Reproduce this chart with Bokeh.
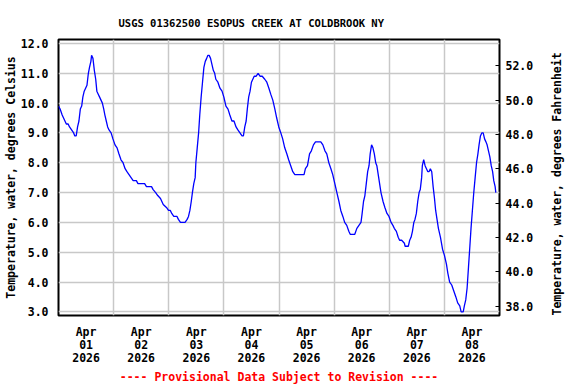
import math
import pandas as pd
from bokeh.plotting import figure
from bokeh.models import (Range1d, LinearAxis, FixedTicker, NumeralTickFormatter,
                          DatetimeTickFormatter, Title)
from bokeh.embed import file_html
from bokeh.resources import INLINE

# ---- data ----
title_text = "USGS 01362500 ESOPUS CREEK AT COLDBROOK NY"
footer_text = "---- Provisional Data Subject to Revision ----"
left_label = "Temperature, water, degrees Celsius"
right_label = "Temperature, water, degrees Fahrenheit"
start_time = "2026-04-01 00:00"
end_time = "2026-04-09 00:00"

hours = [0.0, 0.7, 1.6, 2.2, 2.8, 3.4, 4.2, 4.8, 5.7, 6.6, 7.1, 7.7, 8.3, 8.9, 9.5, 10.1,
         10.6, 11.2, 11.8, 12.4, 13.0, 13.5, 14.1, 14.4, 15.0, 15.6, 16.2, 16.7, 17.3,
         17.9, 18.5, 19.1, 19.7, 20.2, 20.8, 21.4, 22.0, 22.9, 23.7, 24.6, 25.5, 26.3,
         27.2, 28.1, 29.0, 29.8, 30.7, 31.6, 32.5, 33.9, 34.6, 37.5, 38.3, 40.5, 41.2,
         42.3, 43.2, 44.4, 45.6, 47.0, 47.9, 48.7, 49.3, 50.2, 51.6, 52.2, 53.1, 55.1,
         56.0, 56.6, 57.2, 57.8, 58.3, 58.9, 59.5, 59.8, 60.4, 61.0, 61.5, 62.1, 62.7,
         63.3, 63.9, 64.5, 65.0, 65.6, 66.2, 66.8, 67.4, 68.0, 68.5, 69.4, 70.3, 71.2,
         72.0, 72.9, 73.8, 74.6, 75.5, 76.4, 77.3, 78.1, 79.0, 79.9, 80.5, 81.1, 81.7,
         82.2, 82.8, 83.4, 84.0, 84.6, 85.2, 86.0, 86.9, 87.8, 88.7, 89.8, 90.7, 91.6,
         92.4, 93.3, 94.2, 95.0, 95.9, 96.8, 97.6, 98.5, 99.4, 100.2, 101.1, 102.0,
         102.9, 106.9, 107.5, 108.4, 109.3, 110.1, 111.0, 111.9, 112.5, 114.2, 115.1,
         116.0, 116.8, 117.7, 118.6, 119.4, 120.3, 121.2, 122.1, 122.9, 123.8, 124.6,
         125.5, 126.4, 127.0, 129.0, 129.9, 130.8, 131.7, 132.2, 132.8, 133.4, 134.0,
         134.6, 135.2, 135.7, 136.3, 136.9, 137.5, 138.1, 138.6, 139.2, 139.8, 140.4,
         141.3, 142.1, 143.0, 143.9, 144.8, 145.6, 146.2, 147.1, 147.9, 148.5, 149.4,
         150.6, 150.9, 152.3, 152.9, 153.5, 154.1, 154.7, 155.2, 155.8, 156.4, 157.0,
         157.5, 158.1, 158.4, 159.0, 159.6, 160.2, 160.8, 161.3, 161.9, 162.5, 163.1,
         163.7, 164.2, 164.8, 165.4, 166.3, 167.2, 168.0, 168.9, 169.5, 170.3, 171.2,
         172.1, 173.0, 173.8, 174.7, 175.3, 176.2, 176.7, 177.3, 177.9, 178.5, 179.1,
         179.6, 180.2, 180.8, 181.4, 182.0, 182.6, 183.1, 183.7, 184.3, 184.9, 185.5,
         186.1, 186.6, 187.2, 187.8, 188.4, 189.0, 189.5, 190.1, 190.4]

temp_c = [9.9, 9.8, 9.6, 9.5, 9.4, 9.3, 9.3, 9.2, 9.1, 9.0, 8.9, 8.9, 9.2, 9.4, 9.8, 9.9,
          10.2, 10.4, 10.5, 10.6, 11.0, 11.2, 11.4, 11.6, 11.5, 11.1, 10.8, 10.4, 10.3,
          10.2, 10.1, 10.0, 9.8, 9.6, 9.4, 9.2, 9.1, 9.0, 8.8, 8.6, 8.5, 8.3,
          8.1, 8.0, 7.8, 7.7, 7.6, 7.5, 7.4, 7.4, 7.3, 7.3, 7.2, 7.2, 7.1,
          7.0, 6.9, 6.8, 6.6, 6.5, 6.4, 6.4, 6.3, 6.2, 6.2, 6.1, 6.0, 6.0,
          6.1, 6.2, 6.4, 6.7, 7.0, 7.3, 7.5, 8.0, 8.5, 9.0, 9.6, 10.2, 10.7,
          11.2, 11.4, 11.5, 11.6, 11.6, 11.5, 11.3, 11.1, 11.0, 10.8, 10.7, 10.5, 10.4,
          10.2, 9.9, 9.8, 9.6, 9.4, 9.4, 9.2, 9.1, 9.0, 8.9, 8.9, 9.2, 9.4,
          9.8, 10.2, 10.4, 10.7, 10.8, 10.9, 10.9, 11.0, 10.9, 10.9, 10.8, 10.7, 10.5,
          10.3, 10.1, 9.8, 9.5, 9.2, 9.0, 8.8, 8.5, 8.3, 8.1, 7.9, 7.7,
          7.6, 7.6, 7.8, 7.9, 8.3, 8.4, 8.6, 8.7, 8.7, 8.7, 8.6,
          8.4, 8.3, 8.0, 7.8, 7.6, 7.3, 7.0, 6.7, 6.4, 6.2, 6.0,
          5.9, 5.7, 5.6, 5.6, 5.8, 5.9, 6.0, 6.3, 6.7, 6.9, 7.3,
          7.7, 7.9, 8.3, 8.6, 8.5, 8.3, 8.0, 7.9, 7.6, 7.3, 7.0,
          6.7, 6.5, 6.3, 6.2, 6.0, 5.9, 5.8, 5.7, 5.5, 5.4, 5.4,
          5.3, 5.2, 5.2, 5.4, 5.5, 5.7, 6.0, 6.1, 6.3, 6.7, 7.0,
          7.1, 7.5, 7.9, 8.1, 7.9, 7.8, 7.7, 7.7, 7.8, 7.7, 7.2,
          6.8, 6.4, 6.1, 5.8, 5.5, 5.1, 4.9, 4.6, 4.3, 4.0, 3.9,
          3.7, 3.5, 3.3, 3.2, 3.0, 3.0, 3.2, 3.4, 3.8, 4.5, 5.2,
          5.8, 6.4, 7.0, 7.5, 8.0, 8.3, 8.6, 8.9, 9.0, 9.0, 8.8,
          8.7, 8.6, 8.4, 8.2, 7.9, 7.7, 7.4, 7.2, 7.0]

celsius_ticks = [3, 4, 5, 6, 7, 8, 9, 10, 11, 12]
fahrenheit_ticks = [38, 40, 42, 44, 46, 48, 50, 52]
label_days = ["2026-04-01 12:00", "2026-04-02 12:00", "2026-04-03 12:00", "2026-04-04 12:00",
              "2026-04-05 12:00", "2026-04-06 12:00", "2026-04-07 12:00", "2026-04-08 12:00"]
grid_days = ["2026-04-02", "2026-04-03", "2026-04-04", "2026-04-05",
             "2026-04-06", "2026-04-07", "2026-04-08"]

# ---- derived ----
t0 = pd.Timestamp(start_time)
times = [t0 + pd.Timedelta(hours=h) for h in hours]


def ms(s):
    return int(pd.Timestamp(s).value // 10**6)


FONT = "DejaVu Sans Mono"
FS = "11.5px"

p = figure(width=576, height=384, x_axis_type="datetime",
           x_range=Range1d(pd.Timestamp(start_time), pd.Timestamp(end_time)),
           y_range=Range1d(2.877, 12.133),
           output_backend="svg", toolbar_location=None,
           min_border_left=58, min_border_right=77, min_border_top=39, min_border_bottom=68,
           background_fill_color="white", border_fill_color="white")

p.extra_y_ranges = {"f": Range1d(37.46, 53.53)}

p.outline_line_color = "black"
p.outline_line_width = 2
p.outline_line_alpha = 1.0

# Title
p.title.text = title_text
p.title.align = "left"
p.title.offset = 60
p.title.text_font = FONT
p.title.text_font_style = "bold"
p.title.text_font_size = "10.5px"
p.title.text_color = "black"
p.title.standoff = 22

# x axis
xa = p.xaxis[0]
xa.ticker = FixedTicker(ticks=[ms(d) for d in label_days])
fmt = "%b\n%d\n%Y"
xa.formatter = DatetimeTickFormatter(hours=fmt, hourmin=fmt, days=fmt, months=fmt, years=fmt)
xa.major_tick_line_color = None
xa.minor_tick_line_color = None
xa.axis_line_color = None
xa.major_label_standoff = 3
xa.major_label_text_font = FONT
xa.major_label_text_font_style = "bold"
xa.major_label_text_font_size = FS
xa.major_label_text_color = "black"
xa.major_label_text_line_height = 0.93

# left axis
ya = p.yaxis[0]
ya.ticker = FixedTicker(ticks=celsius_ticks)
ya.formatter = NumeralTickFormatter(format="0.0")
ya.major_tick_line_color = None
ya.minor_tick_line_color = None
ya.axis_line_color = None
ya.major_label_standoff = 4
ya.axis_label = left_label
ya.axis_label_standoff = 0
ya.major_label_text_font = FONT
ya.major_label_text_font_style = "bold"
ya.major_label_text_font_size = FS
ya.major_label_text_color = "black"
ya.axis_label_text_font = FONT
ya.axis_label_text_font_style = "bold"
ya.axis_label_text_font_size = FS
ya.axis_label_text_color = "black"

# right axis
ra = LinearAxis(y_range_name="f", ticker=FixedTicker(ticks=fahrenheit_ticks),
                formatter=NumeralTickFormatter(format="0.0"),
                axis_label=right_label)
ra.axis_line_color = None
ra.major_tick_in = 4
ra.major_tick_out = 0
ra.major_tick_line_color = "black"
ra.minor_tick_line_color = None
ra.major_label_standoff = 6
ra.axis_label_standoff = 21
ra.axis_label_orientation = math.pi / 2
if "axis_label_align" in ra.properties():
    ra.axis_label_align = "start"
ra.major_label_text_font = FONT
ra.major_label_text_font_style = "bold"
ra.major_label_text_font_size = FS
ra.major_label_text_color = "black"
ra.axis_label_text_font = FONT
ra.axis_label_text_font_style = "bold"
ra.axis_label_text_font_size = FS
ra.axis_label_text_color = "black"
p.add_layout(ra, "right")

# grid
p.xgrid.ticker = FixedTicker(ticks=[ms(d) for d in grid_days])
p.xgrid.grid_line_color = "#c8c8c8"
p.xgrid.grid_line_width = 1.5
p.ygrid.grid_line_color = "#c8c8c8"
p.ygrid.grid_line_width = 1.5

# data line
p.line(times, temp_c, line_color="#0000ff", line_width=1.3)

# footer
footer = Title(text=footer_text, align="center", text_color="#ff0000",
               text_font=FONT, text_font_style="bold", text_font_size=FS, standoff=1)
p.add_layout(footer, "below")

open("out.html", "w").write(file_html(p, INLINE))
